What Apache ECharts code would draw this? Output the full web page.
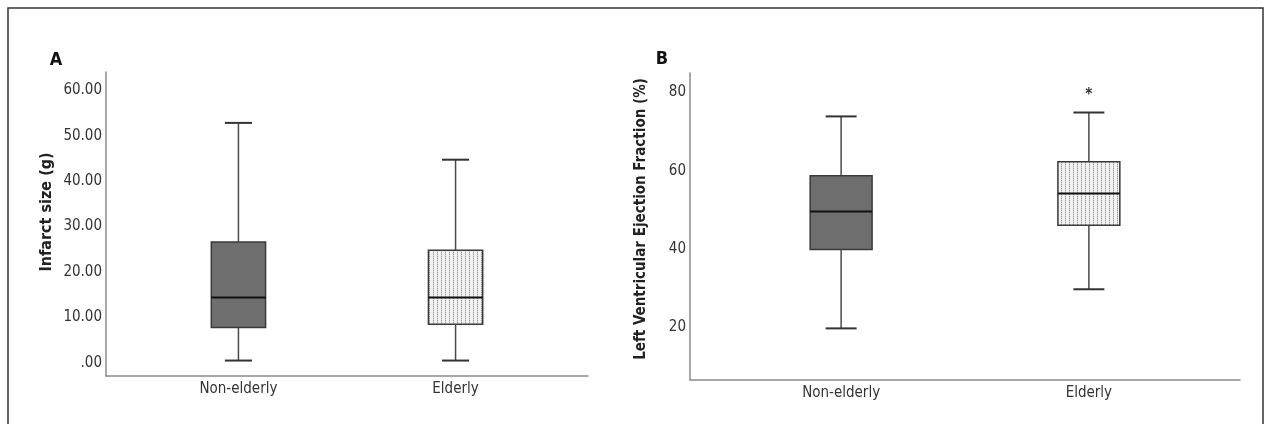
<!DOCTYPE html>
<html>
<head>
<meta charset="utf-8">
<script src="https://cdn.jsdelivr.net/npm/echarts@6/dist/echarts.min.js"></script>
<style>
html,body{margin:0;padding:0;background:#fff;}
#chart{width:1266px;height:424px;}
</style>
</head>
<body>
<div id="chart"></div>
<script>
// ---- data ----
const categories = ['Non-elderly', 'Elderly'];
// [position, min, Q1, median, Q3, max]
const infarctNonElderly = [0, 0.5, 7.8, 14.4, 26.6, 52.8];
const infarctElderly    = [1, 0.5, 8.5, 14.4, 24.8, 44.7];
const lvefNonElderly    = [0, 19.7, 39.9, 49.6, 58.7, 73.9];
const lvefElderly       = [1, 29.7, 46.1, 54.2, 62.3, 74.9];
const lvefOutliers      = [[1, 80]];
const infarctTicks = [0, 10, 20, 30, 40, 50, 60];
const lvefTicks = [20, 40, 60, 80];
const titleA = 'Infarct size (g)';
const titleB = 'Left Ventricular Ejection Fraction (%)';

// ---- styles ----
const FONT = "'Liberation Sans Narrow','Arial Narrow','DejaVu Sans Condensed',sans-serif";
const pc = document.createElement('canvas');
pc.width = 4; pc.height = 2;
const pctx = pc.getContext('2d');
pctx.fillStyle = '#f2f2f2'; pctx.fillRect(0, 0, 4, 2);
pctx.fillStyle = '#999999'; pctx.fillRect(1, 0, 1, 1);
pctx.fillStyle = '#d0d0d0'; pctx.fillRect(1, 1, 1, 1);
const pattern = { image: pc, repeat: 'repeat' };
const fills = ['#6e6e6e', pattern];

function renderBox(params, api) {
  const x = api.value(0);
  const mn = api.value(1), q1 = api.value(2), md = api.value(3), q3 = api.value(4), mx = api.value(5);
  const unit = api.size([1, 0])[0];
  const bw = unit * 0.25, cw = unit * 0.125;
  const pMin = api.coord([x, mn]), pQ1 = api.coord([x, q1]), pMd = api.coord([x, md]);
  const pQ3 = api.coord([x, q3]), pMax = api.coord([x, mx]);
  const cx = pMd[0];
  const ls = { stroke: '#4a4a4a', lineWidth: 1.5 };
  return {
    type: 'group',
    children: [
      { type: 'line', shape: { x1: cx, y1: pMax[1], x2: cx, y2: pQ3[1] }, style: ls },
      { type: 'line', shape: { x1: cx, y1: pQ1[1], x2: cx, y2: pMin[1] }, style: ls },
      { type: 'line', shape: { x1: cx - cw / 2, y1: pMax[1], x2: cx + cw / 2, y2: pMax[1] }, style: { stroke: '#333', lineWidth: 2 } },
      { type: 'line', shape: { x1: cx - cw / 2, y1: pMin[1], x2: cx + cw / 2, y2: pMin[1] }, style: { stroke: '#333', lineWidth: 2 } },
      { type: 'rect', shape: { x: cx - bw / 2, y: pQ3[1], width: bw, height: pQ1[1] - pQ3[1] },
        style: { fill: fills[params.dataIndex], stroke: '#3a3a3a', lineWidth: 1.5 } },
      { type: 'line', shape: { x1: cx - bw / 2, y1: pMd[1], x2: cx + bw / 2, y2: pMd[1] }, style: { stroke: '#111', lineWidth: 2 } }
    ]
  };
}
function renderStar(params, api) {
  const p = api.coord([api.value(0), api.value(1)]);
  return { type: 'text', x: p[0], y: p[1] + 3, style: { text: '*', fill: '#333', font: 'bold 15px ' + FONT, align: 'center', verticalAlign: 'middle' } };
}

const labelStyle = { color: '#333', fontSize: 15, fontFamily: FONT };
function xAxisCfg(gi) {
  return {
    type: 'value', gridIndex: gi, min: -0.61, max: 1.61,
    splitLine: { show: false }, axisTick: { show: false },
    axisLine: { show: true, onZero: false, lineStyle: { color: '#8a8a8a', width: 1.5 } },
    axisLabel: Object.assign({ customValues: [0, 1], margin: 6, formatter: v => categories[Math.round(v)] || '' }, labelStyle)
  };
}
function yAxisCfg(gi, min, max, ticks, fmt) {
  return {
    type: 'value', gridIndex: gi, min: min, max: max,
    splitLine: { show: false }, axisTick: { show: false },
    axisLine: { show: true, onZero: false, lineStyle: { color: '#8a8a8a', width: 1.5 } },
    axisLabel: Object.assign({ customValues: ticks, margin: 4, formatter: fmt }, labelStyle)
  };
}

const chart = echarts.init(document.getElementById('chart'), null, { renderer: 'canvas' });
chart.setOption({
  animation: false,
  backgroundColor: '#fff',
  grid: [
    { left: 106, right: 678, top: 72, bottom: 48 },
    { left: 690, right: 26, top: 73, bottom: 44 }
  ],
  xAxis: [xAxisCfg(0), xAxisCfg(1)],
  yAxis: [
    yAxisCfg(0, -2.9, 64, infarctTicks, v => v === 0 ? '.00' : v.toFixed(2)),
    yAxisCfg(1, 6.5, 85, lvefTicks, v => String(v))
  ],
  graphic: [
    { type: 'rect', shape: { x: 8, y: 8, width: 1255, height: 440 }, style: { fill: 'none', stroke: '#333', lineWidth: 1.5 }, silent: true },
    { type: 'text', x: 56, y: 60, style: { text: 'A', font: 'bold 18px ' + FONT, fill: '#111', align: 'center', verticalAlign: 'middle' } },
    { type: 'text', x: 662, y: 59, style: { text: 'B', font: 'bold 18px ' + FONT, fill: '#111', align: 'center', verticalAlign: 'middle' } },
    { type: 'text', x: 47, y: 212, rotation: Math.PI / 2, style: { text: titleA, font: 'bold 16px ' + FONT, fill: '#222', align: 'center', verticalAlign: 'middle' } },
    { type: 'text', x: 641, y: 219, rotation: Math.PI / 2, style: { text: titleB, font: 'bold 15px ' + FONT, fill: '#222', align: 'center', verticalAlign: 'middle' } }
  ],
  series: [
    { type: 'custom', xAxisIndex: 0, yAxisIndex: 0, renderItem: renderBox, data: [infarctNonElderly, infarctElderly], clip: false },
    { type: 'custom', xAxisIndex: 1, yAxisIndex: 1, renderItem: renderBox, data: [lvefNonElderly, lvefElderly], clip: false },
    { type: 'custom', xAxisIndex: 1, yAxisIndex: 1, renderItem: renderStar, data: lvefOutliers, clip: false }
  ]
});
</script>
</body>
</html>
